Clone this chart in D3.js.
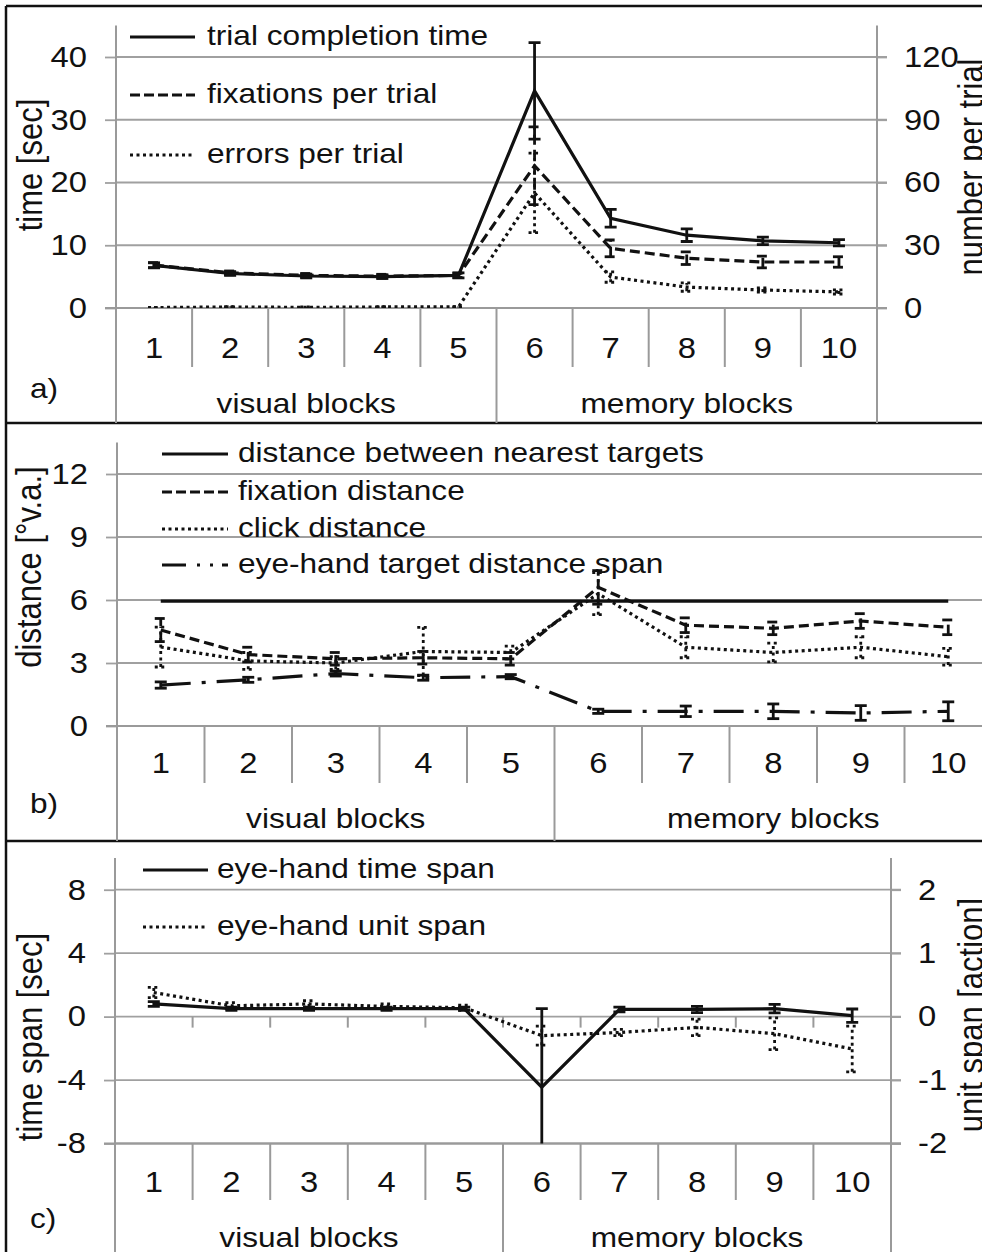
<!DOCTYPE html>
<html>
<head>
<meta charset="utf-8">
<script src="https://cdn.jsdelivr.net/npm/d3@7"></script>
<style>
  body { margin: 0; background: #fff; }
  svg text { font-family: "Liberation Sans", Arial, sans-serif; fill: #111; }
</style>
</head>
<body>
<svg id="chart" width="982" height="1252"></svg>
<script>
// categories
var blocks = ["1", "2", "3", "4", "5", "6", "7", "8", "9", "10"];
var groupNames = ["visual blocks", "memory blocks"];
var groupFirst = ["1", "6"];

// tick values
var ticksA = [0, 10, 20, 30, 40];
var ticksA2 = [0, 30, 60, 90, 120];
var ticksB = [0, 3, 6, 9, 12];
var ticksC = [-8, -4, 0, 4, 8];
var ticksC2 = [-2, -1, 0, 1, 2];

// a) time [sec] (left) and number per trial (right)
var trialTime = [6.8, 5.5, 5.1, 5.0, 5.2, 34.6, 14.3, 11.6, 10.7, 10.4];
var trialTimeErr = [0.4, 0.3, 0.3, 0.3, 0.4, 7.7, 1.4, 1.0, 0.6, 0.5];
var fixationsPerTrial = [20.5, 16.8, 15.6, 15.2, 15.6, 68, 28.5, 23.8, 22, 22];
var fixationsErr = [1.2, 0.9, 0.9, 0.9, 1.0, 18.6, 4, 3, 2.8, 2.5];
var errorsPerTrial = [0.2, 0.5, 0.3, 0.5, 0.5, 55, 14.8, 10, 8.6, 7.7];
var errorsErr = [0.1, 0.2, 0.2, 0.2, 0.2, 19, 2.5, 2, 1, 1];

// b) distance [°v.a.]
var nearestTargets = [5.95, 5.95, 5.95, 5.95, 5.95, 5.95, 5.95, 5.95, 5.95, 5.95];
var fixationDist = [4.57, 3.4, 3.2, 3.25, 3.2, 6.6, 4.8, 4.65, 5.0, 4.7];
var fixationDistErr = [0.55, 0.35, 0.3, 0.3, 0.3, 0.8, 0.35, 0.3, 0.35, 0.35];
var clickDist = [3.76, 3.1, 3.0, 3.55, 3.5, 6.3, 3.75, 3.5, 3.75, 3.3];
var clickDistErr = [0.95, 0.4, 0.3, 1.15, 0.3, 1.0, 0.5, 0.45, 0.5, 0.4];
var targetDistSpan = [1.95, 2.2, 2.5, 2.3, 2.35, 0.7, 0.7, 0.7, 0.62, 0.7];
var targetDistSpanErr = [0.15, 0.12, 0.12, 0.12, 0.1, 0.1, 0.25, 0.35, 0.35, 0.45];

// c) time span [sec] (left) and unit span [action] (right)
var timeSpan = [0.8, 0.5, 0.5, 0.5, 0.5, -4.45, 0.45, 0.45, 0.5, 0.06];
var timeSpanErr = [0.15, 0.1, 0.1, 0.1, 0.1, 4.95, 0.15, 0.2, 0.27, 0.42];
var unitSpan = [0.38, 0.17, 0.2, 0.16, 0.14, -0.3, -0.25, -0.17, -0.27, -0.51];
var unitSpanErr = [0.08, 0.05, 0.05, 0.04, 0.04, 0.15, 0.05, 0.13, 0.25, 0.36];

var dashes = { solid: null, dashed: "10,5", dotted: "3,3.5", dashDot: "30,11,4,11" };
var legendDashes = { solid: null, dashed: "10,4", dotted: "3,3.5", dashDot: "24,11,3,10,3,9,20" };

var svg = d3.select("#chart");
var font = "'Liberation Sans', Arial, sans-serif";
var stretch = 1.13;        // the original figure is a little wider than tall
var digitStretch = 1.13;
var plain = d => String(d);

// frame round the three panels
svg.append("g").selectAll("line")
    .data([[6, 6, 982, 6], [6, 6, 6, 1252], [6, 423, 982, 423], [6, 841, 982, 841]])
    .enter().append("line")
    .attr("x1", d => d[0]).attr("y1", d => d[1]).attr("x2", d => d[2]).attr("y2", d => d[3])
    .style("stroke", "#111").style("stroke-width", 2.5);

function stretchDigits(sel) {
    sel.attr("font-size", 29).attr("font-family", font).style("fill", "#111")
        .each(function() {
            var t = d3.select(this);
            var x0 = +t.attr("x") || 0;
            t.attr("x", x0 / digitStretch).attr("transform", "scale(" + digitStretch + ",1)");
        });
}

// text placed at (x, y), widened like the original, optionally turned upright
function label(parent, x, y, txt, anchor, size, rotated) {
    return parent.append("text")
        .attr("transform", "translate(" + x + "," + y + ") scale(" + stretch + ",1)" + (rotated ? " rotate(-90)" : ""))
        .attr("text-anchor", anchor)
        .attr("font-size", size)
        .text(txt);
}

function drawPanel(p) {
    var g = svg.append("g");
    var x = d3.scaleBand().domain(blocks).range([p.left, p.right]);
    var bw = x.bandwidth();
    var y = d3.scaleLinear().domain(p.yDomain).range([p.bottom, p.top]);
    var y2 = p.y2Domain ? d3.scaleLinear().domain(p.y2Domain).range([p.bottom, p.top]) : null;
    var gridRight = y2 ? p.right + 10 : p.right;

    // gridlines
    g.selectAll(".grid")
        .data(p.yTicks)
        .enter().append("line")
        .attr("x1", p.left).attr("x2", gridRight)
        .attr("y1", d => y(d)).attr("y2", d => y(d))
        .style("stroke", "#a0a0a0").style("stroke-width", 1.8);

    // value axes
    g.append("g")
        .attr("transform", "translate(" + p.left + ",0)")
        .call(d3.axisLeft(y).tickValues(p.yTicks).tickFormat(plain).tickSize(11).tickPadding(18));
    if (y2) {
        g.append("g")
            .attr("transform", "translate(" + p.right + ",0)")
            .call(d3.axisRight(y2).tickValues(p.y2Ticks).tickFormat(plain).tickSize(10).tickPadding(17));
    }
    g.selectAll(".domain").remove();
    g.selectAll(".tick line").style("stroke", "#a0a0a0").style("stroke-width", 1.8);
    stretchDigits(g.selectAll(".tick text"));

    // axis lines run down through the label rows
    var vlines = [p.left];
    if (y2) vlines.push(p.right);
    g.selectAll(".vaxis")
        .data(vlines)
        .enter().append("line")
        .attr("x1", d => d).attr("x2", d => d)
        .attr("y1", p.top).attr("y2", p.panelBottom)
        .style("stroke", "#9a9a9a").style("stroke-width", 2);

    // category axis
    var axB = g.append("g")
        .attr("transform", "translate(0," + p.bottom + ")")
        .call(d3.axisBottom(x).tickSize(0).tickPadding(p.catLabelY - p.bottom - 0.71 * 29));
    axB.select(".domain").remove();
    stretchDigits(axB.selectAll("text"));

    g.append("line")
        .attr("x1", p.left - 11).attr("x2", gridRight)
        .attr("y1", p.bottom).attr("y2", p.bottom)
        .style("stroke", "#9a9a9a").style("stroke-width", 1.8);

    g.selectAll(".sep")
        .data(blocks.slice(1))
        .enter().append("line")
        .attr("x1", d => x(d)).attr("x2", d => x(d))
        .attr("y1", p.bottom)
        .attr("y2", d => groupFirst.indexOf(d) > 0 ? p.panelBottom : p.sepBottom)
        .style("stroke", "#9a9a9a").style("stroke-width", 2);

    if (p.zeroTicks) {
        g.selectAll(".zt")
            .data(blocks.slice(1))
            .enter().append("line")
            .attr("x1", d => x(d)).attr("x2", d => x(d))
            .attr("y1", y(0)).attr("y2", y(0) + 11)
            .style("stroke", "#9a9a9a").style("stroke-width", 2);
    }

    // group labels
    var groupBounds = [[x("1"), x("6")], [x("6"), p.right]];
    groupNames.forEach(function(name, i) {
        label(g, (groupBounds[i][0] + groupBounds[i][1]) / 2, p.groupLabelY, name, "middle", 28);
    });

    // panel letter
    label(g, 30, p.letterY, p.letter, "start", 28);

    // axis titles
    label(g, p.titleX, p.titleY, p.title, "middle", 31, true);
    if (p.title2) label(g, p.title2X, p.title2Y, p.title2, "middle", 31, true);

    // series
    var clipId = "clip" + p.letter.charAt(0);
    svg.append("clipPath").attr("id", clipId)
        .append("rect")
        .attr("x", p.left).attr("y", p.top)
        .attr("width", p.right - p.left + 20).attr("height", p.bottom - p.top);
    var plot = g.append("g").attr("clip-path", "url(#" + clipId + ")");

    p.series.forEach(function(s) {
        var sc = s.axis == 2 ? y2 : y;
        var cx = (d, i) => x(blocks[i]) + bw / 2;
        if (s.err) {
            var eb = plot.append("g");
            s.values.forEach(function(v, i) {
                var e = s.err[i];
                var xc = cx(v, i);
                [[xc, sc(v - e), xc, sc(v + e)],
                 [xc - 6, sc(v - e), xc + 6, sc(v - e)],
                 [xc - 6, sc(v + e), xc + 6, sc(v + e)]].forEach(function(l) {
                    eb.append("line")
                        .attr("x1", l[0]).attr("y1", l[1]).attr("x2", l[2]).attr("y2", l[3])
                        .style("stroke", "#111").style("stroke-width", 2.8)
                        .style("stroke-dasharray", dashes[s.style]);
                });
            });
        }
        plot.append("path")
            .datum(s.values)
            .attr("d", d3.line().x(cx).y(d => sc(d)))
            .style("fill", "none")
            .style("stroke", "#111")
            .style("stroke-width", 3.2)
            .style("stroke-dasharray", dashes[s.style]);
    });

    // legend
    var lg = g.append("g");
    p.legend.forEach(function(item, i) {
        var by = p.legendY[i];
        lg.append("line")
            .attr("x1", p.legendX[0]).attr("x2", p.legendX[1])
            .attr("y1", by - 8).attr("y2", by - 8)
            .style("stroke", "#111").style("stroke-width", 3.2)
            .style("stroke-dasharray", legendDashes[p.series[i].style]);
        label(lg, p.legendX[2], by, item, "start", 28);
    });
}

drawPanel({
    letter: "a)", letterY: 398,
    left: 116, right: 877, top: 25.6, bottom: 308,
    catLabelY: 358, sepBottom: 367, groupLabelY: 413, panelBottom: 423,
    yDomain: [0, 45], yTicks: ticksA, y2Domain: [0, 135], y2Ticks: ticksA2,
    title: "time [sec]", titleX: 42, titleY: 165,
    title2: "number per trial", title2X: 983, title2Y: 167,
    series: [
        { values: trialTime, err: trialTimeErr, style: "solid", axis: 1 },
        { values: fixationsPerTrial, err: fixationsErr, style: "dashed", axis: 2 },
        { values: errorsPerTrial, err: errorsErr, style: "dotted", axis: 2 }
    ],
    legend: ["trial completion time", "fixations per trial", "errors per trial"],
    legendX: [130, 195, 207], legendY: [45, 103, 163]
});

drawPanel({
    letter: "b)", letterY: 813,
    left: 117, right: 992, top: 442.5, bottom: 726,
    catLabelY: 773, sepBottom: 783, groupLabelY: 828, panelBottom: 841,
    yDomain: [0, 13.5], yTicks: ticksB,
    title: "distance [°v.a.]", titleX: 41, titleY: 567,
    series: [
        { values: nearestTargets, style: "solid" },
        { values: fixationDist, err: fixationDistErr, style: "dashed" },
        { values: clickDist, err: clickDistErr, style: "dotted" },
        { values: targetDistSpan, err: targetDistSpanErr, style: "dashDot" }
    ],
    legend: ["distance between nearest targets", "fixation distance", "click distance", "eye-hand target distance span"],
    legendX: [162, 228, 238], legendY: [462, 500, 537, 573]
});

drawPanel({
    letter: "c)", letterY: 1228,
    left: 115, right: 891, top: 858, bottom: 1143.5,
    catLabelY: 1192, sepBottom: 1200, groupLabelY: 1247, panelBottom: 1252,
    yDomain: [-8, 10], yTicks: ticksC, y2Domain: [-2, 2.5], y2Ticks: ticksC2,
    zeroTicks: true,
    title: "time span [sec]", titleX: 42, titleY: 1037,
    title2: "unit span [action]", title2X: 983, title2Y: 1015,
    series: [
        { values: timeSpan, err: timeSpanErr, style: "solid", axis: 1 },
        { values: unitSpan, err: unitSpanErr, style: "dotted", axis: 2 }
    ],
    legend: ["eye-hand time span", "eye-hand unit span"],
    legendX: [143, 208, 217], legendY: [878, 935]
});
</script>
</body>
</html>
